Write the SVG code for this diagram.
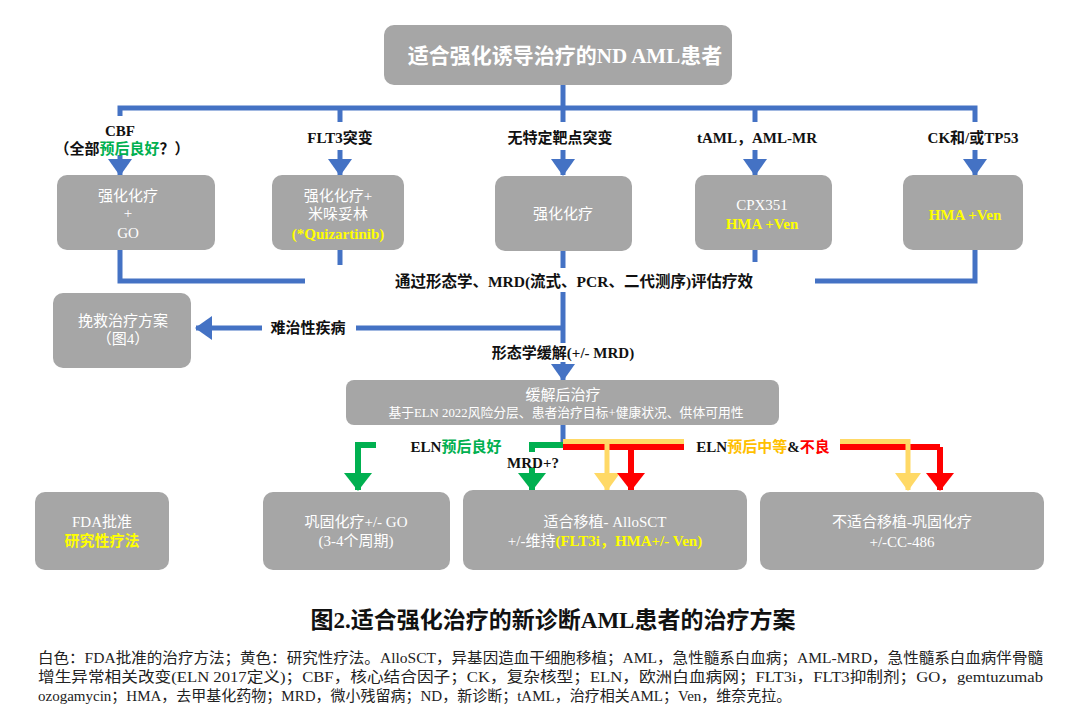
<svg xmlns="http://www.w3.org/2000/svg" width="1080" height="720" viewBox="0 0 1080 720">
<style>
  .box { fill: #A6A6A6; }
  .bt { font-family: "Liberation Serif", "Noto Sans CJK SC", serif; fill: #FFFFFF; font-size: 15px; text-anchor: middle; }
  .lb { font-family: "Liberation Serif", "Noto Sans CJK SC", serif; fill: #111111; font-size: 15px; font-weight: bold; text-anchor: middle; }
  .yl { fill: #FFFF00; font-weight: bold; }
  .gn { fill: #00B050; }
  .or { fill: #FFC000; }
  .rd { fill: #FF0000; }
  .blue { fill: none; stroke: #4472C4; stroke-width: 5; }
  .green { fill: none; stroke: #00B050; stroke-width: 6; }
  .yellow { fill: none; stroke: #FFD966; stroke-width: 5; }
  .red { fill: none; stroke: #FF0000; stroke-width: 6; }
  .fn { font-family: "Liberation Serif", "Noto Sans CJK SC", serif; fill: #222222; font-size: 15px; }
</style>
<defs>
  <marker id="ab" viewBox="0 0 17 24" refX="16" refY="12" markerWidth="17" markerHeight="24" markerUnits="userSpaceOnUse" orient="auto"><path d="M0,0 L17,12 L0,24 Z" fill="#4472C4"/></marker>
  <marker id="ag" viewBox="0 0 18 28" refX="17" refY="14" markerWidth="18" markerHeight="28" markerUnits="userSpaceOnUse" orient="auto"><path d="M0,0 L18,14 L0,28 Z" fill="#00B050"/></marker>
  <marker id="ay" viewBox="0 0 18 26" refX="17" refY="13" markerWidth="18" markerHeight="26" markerUnits="userSpaceOnUse" orient="auto"><path d="M0,0 L18,13 L0,26 Z" fill="#FFD966"/></marker>
  <marker id="ar" viewBox="0 0 18 28" refX="17" refY="14" markerWidth="18" markerHeight="28" markerUnits="userSpaceOnUse" orient="auto"><path d="M0,0 L18,14 L0,28 Z" fill="#FF0000"/></marker>
</defs>
<rect width="1080" height="720" fill="#FFFFFF"/>

<g id="connectors">
  <path class="blue" d="M563,85 V108"/>
  <path class="blue" d="M120,116 V108 H975 V122"/>
  <path class="blue" d="M340,108 V122"/>
  <path class="blue" d="M563,108 V122"/>
  <path class="blue" d="M755,108 V122"/>
  <path class="blue" d="M120,155 V175" marker-end="url(#ab)"/>
  <path class="blue" d="M340,150 V175" marker-end="url(#ab)"/>
  <path class="blue" d="M563,150 V175" marker-end="url(#ab)"/>
  <path class="blue" d="M755,150 V175" marker-end="url(#ab)"/>
  <path class="blue" d="M975,150 V175" marker-end="url(#ab)"/>
  <path class="blue" d="M120,250 V281 H305"/>
  <path class="blue" d="M340,250 V265"/>
  <path class="blue" d="M755,250 V262"/>
  <path class="blue" d="M975,250 V281 H815"/>
  <path class="blue" d="M563,251 V268"/>
  <path class="blue" d="M563,292 V343"/>
  <path class="blue" d="M565,328 H356"/>
  <path class="blue" d="M262,328 H196" marker-end="url(#ab)"/>
  <path class="blue" d="M563,362 V380" marker-end="url(#ab)"/>
  <path class="blue" d="M563,425 V443"/>
  <path class="green" d="M376,445 H358 V490" marker-end="url(#ag)"/>
  <path class="green" d="M565,445 H532 V452"/>
  <path class="green" d="M532,468 V490" marker-end="url(#ag)"/>
  <path class="red" d="M563,447 H684"/>
  <path class="red" d="M840,447 H940"/>
  <path class="yellow" d="M563,441.5 H684"/>
  <path class="yellow" d="M840,441.5 H908 V490" marker-end="url(#ay)"/>
  <path class="yellow" d="M607,441.5 V490" marker-end="url(#ay)"/>
  <path class="red" d="M631,447 V490" marker-end="url(#ar)"/>
  <path class="red" d="M940,447 V490" marker-end="url(#ar)"/>
</g>

<g id="labels">
  <text class="lb" x="120" y="136">CBF</text>
  <text class="lb" x="122" y="154">（全部<tspan class="gn">预后良好</tspan>？）</text>
  <text class="lb" x="340" y="143">FLT3突变</text>
  <text class="lb" x="560" y="143">无特定靶点突变</text>
  <text class="lb" x="757" y="143">tAML，AML-MR</text>
  <text class="lb" x="973" y="143">CK和/或TP53</text>
  <text class="lb" x="574" y="287" style="font-size:15.5px">通过形态学、MRD(流式、PCR、二代测序)评估疗效</text>
  <text class="lb" x="308" y="333">难治性疾病</text>
  <text class="lb" x="563" y="358">形态学缓解(+/- MRD)</text>
  <text class="lb" x="456" y="452">ELN<tspan class="gn">预后良好</tspan></text>
  <text class="lb" x="533" y="468">MRD+?</text>
  <text class="lb" x="763" y="452">ELN<tspan class="or">预后中等</tspan>&amp;<tspan class="rd">不良</tspan></text>
</g>

<g id="n-top">
  <rect class="box" x="384" y="25" width="348" height="60" rx="10"/>
  <text class="bt" x="565" y="63" style="font-size:21px;font-weight:bold">适合强化诱导治疗的ND AML患者</text>
</g>

<g id="n-cbf">
  <rect class="box" x="57" y="175" width="158" height="75" rx="10"/>
  <text class="bt" x="128" y="201">强化化疗</text>
  <text class="bt" x="128" y="218">+</text>
  <text class="bt" x="128" y="238">GO</text>
</g>

<g id="n-flt3">
  <rect class="box" x="272" y="175" width="132" height="75" rx="10"/>
  <text class="bt" x="338" y="201">强化化疗+</text>
  <text class="bt" x="338" y="219">米哚妥林</text>
  <text class="bt yl" x="338" y="239">(*Quizartinib)</text>
</g>

<g id="n-none">
  <rect class="box" x="495" y="176" width="137" height="75" rx="10"/>
  <text class="bt" x="563" y="219">强化化疗</text>
</g>

<g id="n-taml">
  <rect class="box" x="695" y="175" width="137" height="75" rx="10"/>
  <text class="bt" x="762" y="210">CPX351</text>
  <text class="bt yl" x="762" y="229">HMA +Ven</text>
</g>

<g id="n-ck">
  <rect class="box" x="903" y="175" width="120" height="75" rx="10"/>
  <text class="bt yl" x="965" y="220">HMA +Ven</text>
</g>

<g id="n-salvage">
  <rect class="box" x="53" y="293" width="138" height="75" rx="10"/>
  <text class="bt" x="123" y="326">挽救治疗方案</text>
  <text class="bt" x="123" y="344">（图4）</text>
</g>

<g id="n-post">
  <rect class="box" x="346" y="380" width="433" height="45" rx="8"/>
  <text class="bt" x="563" y="400">缓解后治疗</text>
  <text class="bt" x="566" y="417" style="font-size:12.8px">基于ELN 2022风险分层、患者治疗目标+健康状况、供体可用性</text>
</g>

<g id="n-legend">
  <rect class="box" x="35" y="492" width="134" height="78" rx="10"/>
  <text class="bt" x="102" y="527">FDA批准</text>
  <text class="bt yl" x="102" y="546">研究性疗法</text>
</g>

<g id="n-consol">
  <rect class="box" x="263" y="492" width="187" height="78" rx="10"/>
  <text class="bt" x="356" y="527">巩固化疗+/- GO</text>
  <text class="bt" x="356" y="546">(3-4个周期)</text>
</g>

<g id="n-sct">
  <rect class="box" x="463" y="490" width="284" height="80" rx="10"/>
  <text class="bt" x="605" y="527">适合移植- AlloSCT</text>
  <text class="bt" x="605" y="546">+/-维持<tspan class="yl">(FLT3i，HMA+/- Ven)</tspan></text>
</g>

<g id="n-nosct">
  <rect class="box" x="760" y="492" width="284" height="78" rx="10"/>
  <text class="bt" x="902" y="527">不适合移植-巩固化疗</text>
  <text class="bt" x="902" y="547">+/-CC-486</text>
</g>

<g id="caption">
  <text x="553" y="628" font-family="Liberation Serif, Noto Sans CJK SC, serif" font-size="23" font-weight="bold" fill="#111111" text-anchor="middle">图2.适合强化治疗的新诊断AML患者的治疗方案</text>
  <text class="fn" x="38" y="663" textLength="1005" lengthAdjust="spacingAndGlyphs">白色：FDA批准的治疗方法；黄色：研究性疗法。AlloSCT，异基因造血干细胞移植；AML，急性髓系白血病；AML-MRD，急性髓系白血病伴骨髓</text>
  <text class="fn" x="38" y="682" textLength="1005" lengthAdjust="spacingAndGlyphs">增生异常相关改变(ELN 2017定义)；CBF，核心结合因子；CK，复杂核型；ELN，欧洲白血病网；FLT3i，FLT3抑制剂；GO，gemtuzumab</text>
  <text class="fn" x="38" y="701">ozogamycin；HMA，去甲基化药物；MRD，微小残留病；ND，新诊断；tAML，治疗相关AML；Ven，维奈克拉。</text>
</g>
</svg>
